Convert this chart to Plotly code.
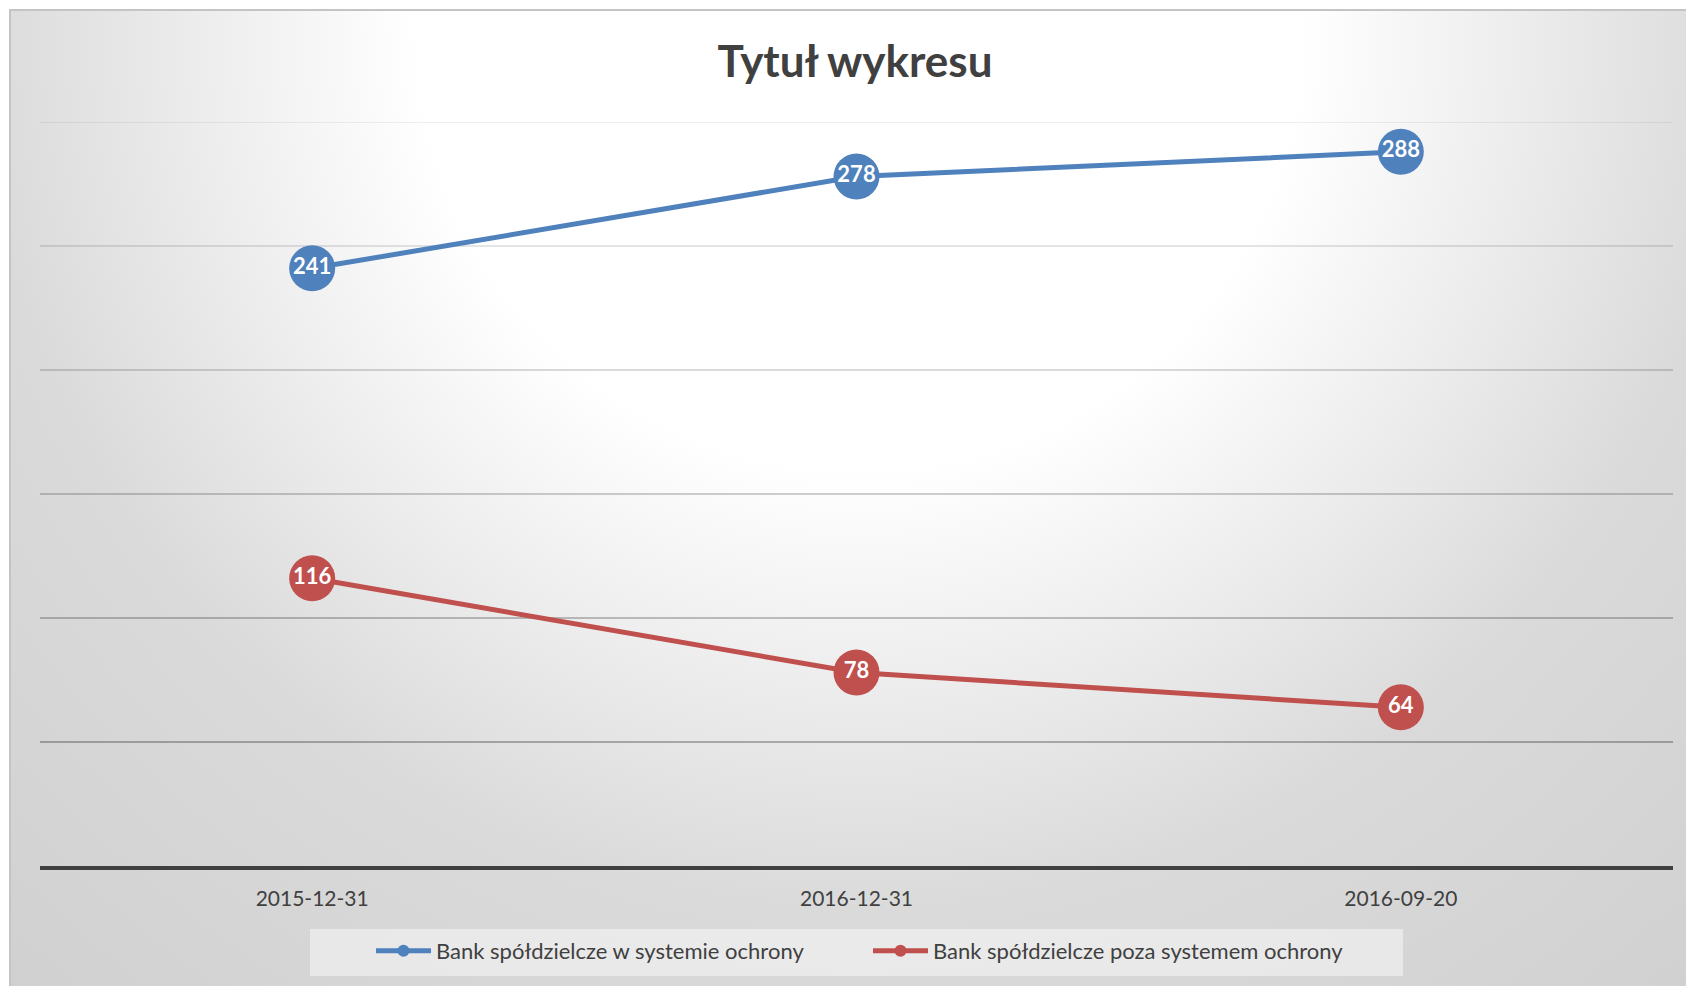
import base64
import plotly.graph_objects as go

# ---- data ----
categories = ["2015-12-31", "2016-12-31", "2016-09-20"]
series_names = ["Bank spółdzielcze w systemie ochrony", "Bank spółdzielcze poza systemem ochrony"]
in_system = [241, 278, 288]
outside_system = [116, 78, 64]
y_ticks = [50, 100, 150, 200, 250, 300]
title_text = "Tytuł wykresu"

# ---- layout geometry (pixels) ----
W, H = 1694, 986
OFF = 8  # page body margin offset
# desired page positions of plot area
P_L, P_R, P_T, P_B = 40, 1673, 122, 866
ML = P_L - OFF
MT = P_T - OFF
MR = W - (P_R - OFF)
MB = H - (P_B - OFF)
PW, PH = W - ML - MR, H - MT - MB


def px_x(px):  # page pixel -> paper x
    return (px - P_L) / PW


def px_y(py):  # page pixel -> paper y
    return (P_B - py) / PH


FONT = "Lato, 'Open Sans', sans-serif"
BLUE = "#4f81bd"
RED = "#c0504d"
TXT = "#404040"

# radial gradient background (Excel-like chart area), drawn in page coordinates
svg = f'''<svg xmlns="http://www.w3.org/2000/svg" width="{W}" height="{H}" viewBox="0 0 {W} {H}">
<defs><radialGradient id="g" gradientUnits="userSpaceOnUse" cx="860" cy="27" r="1300">
<stop offset="0" stop-color="#ffffff"/><stop offset="0.34" stop-color="#ffffff"/>
<stop offset="0.68" stop-color="#dadada"/><stop offset="1" stop-color="#d0d0d0"/>
</radialGradient></defs>
<rect x="0" y="0" width="{W}" height="{H}" fill="#ffffff"/>
<rect x="10" y="10" width="1720" height="1020" fill="url(#g)" stroke="#c4c4c4" stroke-width="2"/>
</svg>'''
svg_uri = "data:image/svg+xml;base64," + base64.b64encode(svg.encode()).decode()

fig = go.Figure()
for name, vals, col in [(series_names[0], in_system, BLUE), (series_names[1], outside_system, RED)]:
    fig.add_trace(go.Scatter(
        x=categories, y=vals, name=name,
        mode="lines+markers+text",
        text=[str(v) for v in vals],
        textposition="middle center",
        textfont=dict(family=FONT, size=22, color="white", weight="bold"),
        line=dict(color=col, width=5),
        marker=dict(color=col, size=46),
        cliponaxis=False,
    ))

grid_alpha = [0.37, 0.31, 0.25, 0.20, 0.14, 0.08]
shapes = []
for yv, a in zip(y_ticks, grid_alpha):
    shapes.append(dict(type="line", xref="paper", yref="y", x0=0, x1=1, y0=yv, y1=yv,
                       line=dict(color=f"rgba(0,0,0,{a})", width=1.5), layer="below"))
# legend background box
shapes.append(dict(type="rect", xref="paper", yref="paper",
                   x0=px_x(310), x1=px_x(1403), y0=px_y(976), y1=px_y(929),
                   fillcolor="rgba(255,255,255,0.45)", line=dict(width=0), layer="below"))

fig.update_layout(
    width=W, height=H,
    margin=dict(l=ML, r=MR, t=MT, b=MB),
    paper_bgcolor="white", plot_bgcolor="rgba(0,0,0,0)",
    images=[dict(source=svg_uri, xref="paper", yref="paper",
                 x=px_x(0), y=px_y(0), sizex=W / PW, sizey=H / PH,
                 xanchor="left", yanchor="top", sizing="stretch", layer="below")],
    shapes=shapes,
    title=dict(text=title_text, x=0.5, xanchor="center", y=1 - (62 - OFF) / H, yanchor="middle",
               font=dict(family=FONT, size=44, color=TXT, weight="bold")),
    xaxis=dict(type="category", range=[-0.5, 2.5], showgrid=False, zeroline=False,
               showline=True, linecolor="#404040", linewidth=4, ticks="",
               tickfont=dict(family=FONT, size=21, color=TXT), ticklabelstandoff=11),
    yaxis=dict(range=[0, 300], showgrid=False, zeroline=False, showticklabels=False,
               showline=False, tickvals=y_ticks),
    legend=dict(orientation="h", x=px_x(371), xanchor="left", y=px_y(951), yanchor="middle",
                bgcolor="rgba(0,0,0,0)", font=dict(family=FONT, size=22, color=TXT),
                itemsizing="constant", itemwidth=55, entrywidth=427, entrywidthmode="pixels"),
    showlegend=True,
)

fig.write_html("out.html")
